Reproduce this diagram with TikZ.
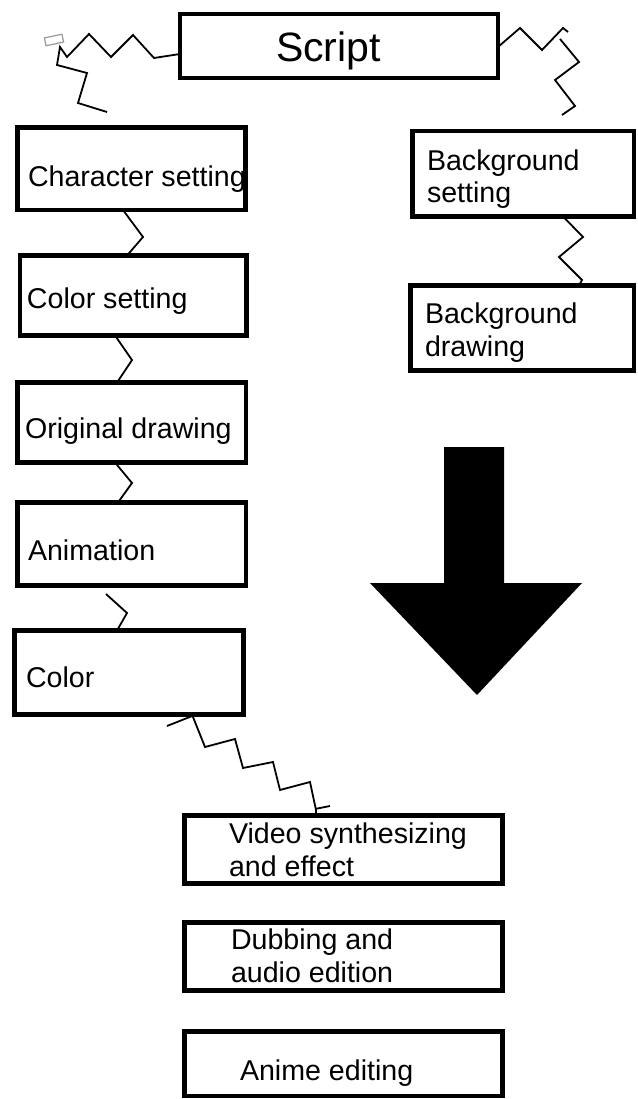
\documentclass[tikz,border=0pt]{standalone}
\usepackage{fontspec}
\setmainfont{Liberation Sans}
\usetikzlibrary{calc}
\begin{document}
\begin{tikzpicture}[x=1pt,y=-1pt,
  box/.style={draw=black, line width=4.5pt, inner sep=0pt, outer sep=0pt},
  txt/.style={inner sep=0pt, outer sep=0pt, font=\fontsize{28.6}{32.5}\selectfont, align=left},
  zig/.style={draw=black, line width=1.8pt, line join=miter},
  bigarrow/.style={fill=black, draw=none}]
\useasboundingbox (0,0) rectangle (637,1099);
% boxes
\node[box, minimum width=318pt, minimum height=64pt] (sc) at (339,46) {};
\node[box, minimum width=228pt, minimum height=82.5pt] (cs) at (131.5,168.75) {};
\node[box, minimum width=226.5pt, minimum height=80pt] (cl) at (133.25,295.5) {};
\node[box, minimum width=228.5pt, minimum height=80pt] (od) at (131.75,422.5) {};
\node[box, minimum width=228.5pt, minimum height=83pt] (an) at (131.75,544) {};
\node[box, minimum width=229pt, minimum height=84pt] (co) at (129,672.5) {};
\node[box, minimum width=221.5pt, minimum height=85.5pt] (bs) at (523.25,173.75) {};
\node[box, minimum width=223.5pt, minimum height=85pt] (bd) at (522.25,328) {};
\node[box, minimum width=318pt, minimum height=68pt] (vs) at (343.5,849.5) {};
\node[box, minimum width=318pt, minimum height=68pt] (db) at (343.5,956.5) {};
\node[box, minimum width=318pt, minimum height=64.5pt] (ae) at (343.5,1063.75) {};
% texts (anchor base = baseline of the last line)
\node[txt, anchor=base west, font=\fontsize{41}{46}\selectfont] (tsc) at (276,62) {Script};
\node[txt, anchor=base west] (tcs) at (28,187) {Character setting};
\node[txt, anchor=base west] (tcl) at (27,308) {Color setting};
\node[txt, anchor=base west] (tod) at (25,438) {Original drawing};
\node[txt, anchor=base west] (tan) at (28,560) {Animation};
\node[txt, anchor=base west] (tco) at (26,687) {Color};
\node[txt, anchor=base west] (tbs) at (427,203) {Background\\setting};
\node[txt, anchor=base west] (tbd) at (425,356) {Background\\drawing};
\node[txt, anchor=base west] (tvs) at (229,876) {Video synthesizing\\and effect};
\node[txt, anchor=base west] (tdb) at (231,982) {Dubbing and\\audio edition};
\node[txt, anchor=base west] (tae) at (240,1080) {Anime editing};
% zigzag connectors
\coordinate (z1end) at (107,112);
\draw[zig] ([yshift=-8pt]sc.west) -- (154,58) -- (133,35) -- (111,57) -- (89,34) -- (67,57) -- (60,47)
  -- (57,65) -- (87,73) -- (78,103) -- (z1end);
\draw[draw=black!40, line width=1.2pt, fill=white, rotate around={12:(54,40)}] (45,36) rectangle (63,44);
\coordinate (z2end) at (562,115);
\draw[zig] ([yshift=-1pt]sc.east) -- (520,28) -- (542,50) -- (563,28) -- (568,32)
  (560,39) -- (579,62) -- (555,80) -- (575,106) -- (z2end);
\draw[zig] (cs.south -| 123,0) -- (143,237) -- (cl.north -| 127,0);
\draw[zig] (cl.south -| 115,0) -- (132,360) -- (od.north -| 117,0);
\draw[zig] (od.south -| 115,0) -- (132,483) -- (an.north -| 118,0);
\coordinate (z6start) at (106,594);
\draw[zig] (z6start) -- (127,613) -- (co.north -| 117,0);
\coordinate (z7tick) at (167,726);
\draw[zig] (z7tick) -- (co.south -| 196,0);
\draw[zig] (co.south -| 192,0) -- (205,747) -- (235,739) -- (243,768) -- (273,762) -- (280,790)
  -- (310,782) -- (316,810) -- (vs.north -| 316,0)
  (315,809) -- (330,806);
\draw[zig] (bs.south -| 563,0) -- (583,237) -- (559,257) -- (582,280) -- (bd.north -| 579,0);
% big arrow
\path[bigarrow] (444,447) -- (504,447) -- (504,583) -- (582,583) -- (477,695) -- (370,583) -- (444,583) -- cycle;
\end{tikzpicture}
\end{document}
